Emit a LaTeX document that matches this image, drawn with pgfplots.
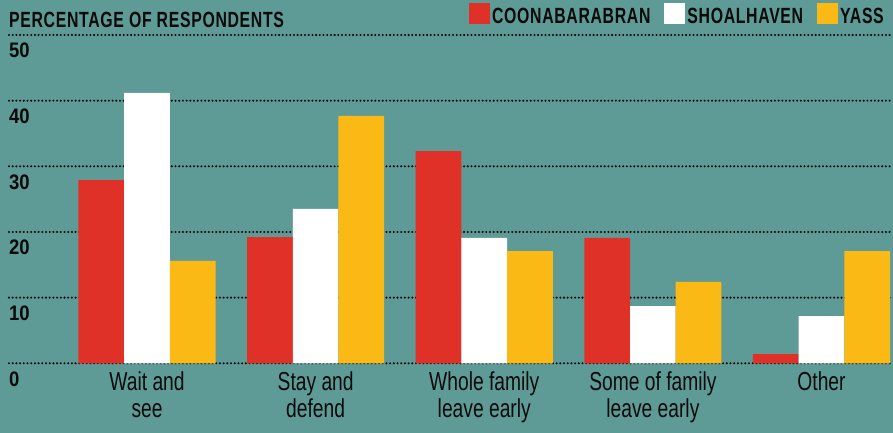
\documentclass[border=0pt]{standalone}
\usepackage{pgfplots}
\pgfplotsset{compat=1.18}
\usepackage{fontspec}
\setmainfont{Liberation Sans}
\newfontfamily\condfont[FakeStretch=0.74]{Liberation Sans}
\newfontfamily\hdfont[FakeStretch=0.72,LetterSpace=3]{Liberation Sans}
\newfontfamily\numfont[FakeStretch=0.88]{Liberation Sans}
\definecolor{bg}{HTML}{5E9B96}
\definecolor{cred}{HTML}{E03128}
\definecolor{cyel}{HTML}{FBB916}
\definecolor{ink}{HTML}{0A0A0A}
\begin{document}
\begin{tikzpicture}[x=1pt,y=1pt]
\fill[bg] (-9,-69.3) rectangle (884,363.3);
\begin{axis}[
  at={(0,0)}, anchor=south west,
  scale only axis, width=884pt, height=328.3pt,
  xmin=-0.8185, xmax=4.424, ymin=0, ymax=50,
  axis line style={draw=none},
  ybar, bar width=0.271,
  ytick={0,10,20,30,40,50},
  ymajorgrids,
  grid style={draw=ink, line width=2.3pt, line cap=round, dash pattern=on 0pt off 3.7pt},
  /pgf/number format/assume math mode=true,
  yticklabel style={font=\numfont\bfseries\fontsize{21}{21}\selectfont, text=ink, anchor=north west, inner sep=0pt, xshift=0pt, yshift=-8pt},
  yticklabel pos=left,
  ytick style={draw=none},
  xtick={0,1,2,3,4},
  xticklabels={{Wait and\\see},{Stay and\\defend},{Whole family\\leave early},{Some of family\\leave early},{Other}},
  xticklabel style={font=\condfont\fontsize{26}{27}\selectfont, text=ink, align=center, anchor=north, inner sep=0pt, yshift=-4pt},
  xtick style={draw=none},
  legend style={draw=none, fill=none, at={(1,1)}, anchor=south east, yshift=6pt, xshift=-4pt,
     font=\hdfont\bfseries\fontsize{22}{22}\selectfont, text=ink, legend columns=-1,
     /tikz/every even column/.append style={column sep=12pt}},
  legend image code/.code={\fill[#1] (0pt,-8pt) rectangle (21pt,13pt);},
  clip=false,
]
\addplot[fill=cred, draw=none, bar shift=-0.271] coordinates {(0,27.9) (1,19.2) (2,32.3) (3,19.1) (4,1.4)};
\addplot[fill=white, draw=none, bar shift=0] coordinates {(0,41.2) (1,23.5) (2,19.1) (3,8.7) (4,7.2)};
\addplot[fill=cyel, draw=none, bar shift=0.271] coordinates {(0,15.6) (1,37.7) (2,17.1) (3,12.4) (4,17.1)};
\legend{COONABARABRAN, SHOALHAVEN, YASS}
\node[anchor=south west, inner sep=0pt, font=\hdfont\bfseries\fontsize{22}{22}\selectfont, text=ink] at (axis description cs:0,1) [yshift=7pt] {PERCENTAGE OF RESPONDENTS};
\end{axis}
\pgfresetboundingbox
\path (-9,-69.3) rectangle (884,363.3);
\end{tikzpicture}
\end{document}
